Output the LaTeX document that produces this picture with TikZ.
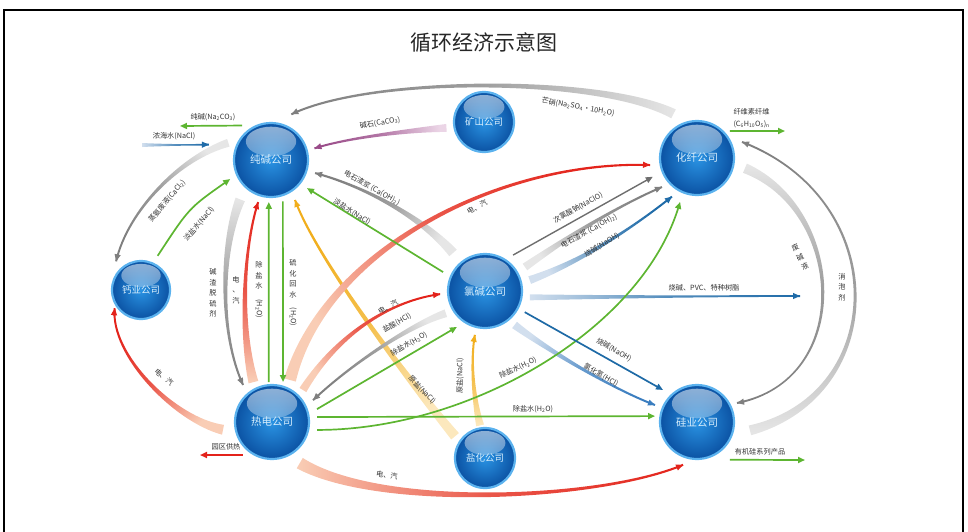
\documentclass[tikz,border=0pt]{standalone}
\usepackage{fontspec}
\setmainfont{Noto Sans CJK SC}
\usepackage{graphicx}
\usetikzlibrary{calc,arrows.meta,fadings}
\pgfdeclarelayer{bg}
\pgfsetlayers{bg,main}
\definecolor{gr}{HTML}{5DB531}
\definecolor{redH}{HTML}{E3231B}
\definecolor{redT}{HTML}{F9CDB5}
\definecolor{grayH}{HTML}{7F7F7F}
\definecolor{grayT}{HTML}{E6E6E6}
\definecolor{grayD}{HTML}{6E6E6E}
\definecolor{blueH}{HTML}{1F6BA8}
\definecolor{blueT}{HTML}{D2DFEE}
\definecolor{lblueH}{HTML}{3A7DBF}
\definecolor{blueD}{HTML}{1E6AA6}
\definecolor{yelH}{HTML}{F1AE1C}
\definecolor{yelT}{HTML}{FCE8BD}
\definecolor{purH}{HTML}{9A4C89}
\definecolor{purT}{HTML}{EBD5E6}
\definecolor{txt}{HTML}{333333}
\definecolor{ballin}{HTML}{2A93E3}
\definecolor{ballout}{HTML}{0B52A3}
\definecolor{rimc}{HTML}{5BB2EE}
\definecolor{balltxt}{HTML}{D8EEFC}
\tikzfading[name=hlfade, top color=transparent!45, bottom color=transparent!100]
\newcommand\sbs[1]{\textsubscript{#1}}
% tapered ribbon: #1 A, #2 c1, #3 c2, #4 B, #5 tail half width, #6 head colour, #7 tail colour, #8 shading angle
\newcommand\ribbon[8]{%
  \shade[top color=#6, bottom color=#7, middle color=#6!70!#7, shading angle=#8]
   ($(#1)!#5pt!90:(#2)$) .. controls ($(#2)!0.45*#5pt!90:(#3)$) and ($(#3)!0.22*#5pt!-90:(#2)$) .. ($(#4)!1pt!-90:(#3)$)
   -- ($(#4)!1pt!90:(#3)$) .. controls ($(#3)!0.22*#5pt!90:(#2)$) and ($(#2)!0.45*#5pt!-90:(#3)$) .. ($(#1)!#5pt!-90:(#2)$) -- cycle;
  \draw[draw=#6, line width=1pt, -{Triangle[length=7pt,width=6pt]}] ($(#4)!8pt!(#3)$) -- (#4);
}
\begin{document}
\begin{tikzpicture}[x=1pt,y=1pt,
  ball/.style={circle, minimum size=#1, inner sep=0pt, draw=rimc, line width=2.2pt,
    inner color=ballin, outer color=ballout, text=balltxt,
    path picture={\fill[white, path fading=hlfade] ([yshift=0.25*#1]path picture bounding box.center) ellipse ({0.34*#1} and {0.2*#1});}},
  bigf/.style={font=\fontsize{10.5}{12}\selectfont},
  smf/.style={font=\fontsize{9.5}{11}\selectfont},
  ln/.style={line width=1.7pt, -{Triangle[length=7pt,width=6pt]}},
  lbl/.style={font=\fontsize{7.2}{9}\selectfont, text=txt, inner sep=0.3pt},
  vlbl/.style={lbl, align=center, font=\fontsize{7.2}{10.5}\selectfont}]
\useasboundingbox (0,0) rectangle (968,-531);
\draw[line width=1.6pt] (4,-540) -- (4,-10) -- (963,-10) -- (963,-540);
\node[font=\fontsize{21}{24}\selectfont, text=black!85] (title) at (484,-43) {循环经济示意图};

\node[ball=74pt, bigf] (cj) at (271,-160) {纯碱公司};
\node[ball=60pt, smf] (ks) at (484,-122) {矿山公司};
\node[ball=74pt, bigf] (hx) at (697,-158) {化纤公司};
\node[ball=58pt, smf] (gy) at (141,-290) {钙业公司};
\node[ball=74pt, bigf] (lj) at (485,-291) {氯碱公司};
\node[ball=74pt, bigf] (rd) at (272,-422) {热电公司};
\node[ball=60pt, smf] (yh) at (485,-458) {盐化公司};
\node[ball=74pt, bigf] (gu) at (697,-422) {硅业公司};

\coordinate (t1a) at ($(hx)+(118:50)$);
\coordinate (t1b) at ($(cj)+(66:50)$);
\coordinate (t2a) at ($(ks)+(189:38)$);
\coordinate (t2b) at ($(cj)+(15:45)$);
\coordinate (t3a) at ($(cj)+(130:45)$);
\coordinate (t3b) at (180,-126);
\coordinate (t4a) at (142,-145);
\coordinate (t4b) at ($(cj)+(166:64)$);
\coordinate (t5a) at ($(cj)+(158:46)$);
\coordinate (t5b) at ($(gy)+(131:38)$);
\coordinate (t6a) at ($(gy)+(64:38)$);
\coordinate (t6b) at ($(cj)+(205:45)$);
\coordinate (t7a) at ($(cj)+(232:50)$);
\coordinate (t7b) at ($(rd)+(128:47)$);
\coordinate (t8a) at ($(rd)+(115:44)$);
\coordinate (t8b) at ($(cj)+(253:44)$);
\coordinate (t9a) at ($(rd)+(94.6:40)$);
\coordinate (t9b) at ($(cj)+(267:42)$);
\coordinate (t10a) at ($(cj)+(286:43)$);
\coordinate (t10b) at ($(rd)+(74.6:41.5)$);
\coordinate (t11a) at ($(yh)+(144:37)$);
\coordinate (t11b) at ($(cj)+(301:46.6)$);
\coordinate (t12a) at ($(yh)+(98.6:33)$);
\coordinate (t12b) at ($(lj)+(257:45)$);
\coordinate (t13a) at ($(lj)+(130:49.7)$);
\coordinate (t13b) at ($(cj)+(343.5:46)$);
\coordinate (t14a) at ($(lj)+(155.7:46)$);
\coordinate (t14b) at ($(cj)+(322:45.6)$);
\coordinate (t15a) at ($(rd)+(66.8:45.7)$);
\coordinate (t15b) at ($(hx)+(188.5:47.5)$);
\coordinate (t16a) at ($(lj)+(52:45.6)$);
\coordinate (t16b) at ($(hx)+(203:48)$);
\coordinate (t17a) at ($(lj)+(31:46.6)$);
\coordinate (t17b) at ($(hx)+(219.6:45.5)$);
\coordinate (t18a) at ($(lj)+(13.7:46)$);
\coordinate (t18b) at ($(hx)+(237:46)$);
\coordinate (t19a) at ($(lj)+(352:45.4)$);
\coordinate (t19b) at (800,-296);
\coordinate (t20a) at ($(rd)+(350:45.7)$);
\coordinate (t20b) at ($(hx)+(249:47)$);
\coordinate (t21a) at ($(lj)+(332:45)$);
\coordinate (t21b) at ($(gu)+(136.7:46.7)$);
\coordinate (t22a) at ($(lj)+(311:45)$);
\coordinate (t22b) at ($(gu)+(158:45.3)$);
\coordinate (t23a) at ($(rd)+(6.3:45.3)$);
\coordinate (t23b) at ($(gu)+(172:42.4)$);
\coordinate (t24a) at ($(rd)+(304:49.6)$);
\coordinate (t24b) at ($(gu)+(252:45)$);
\coordinate (t25a) at ($(rd)+(46:44.5)$);
\coordinate (t25b) at ($(lj)+(184:45)$);
\coordinate (t26a) at ($(lj)+(209.6:45)$);
\coordinate (t26b) at ($(rd)+(28:46.5)$);
\coordinate (t27a) at ($(rd)+(16:46.8)$);
\coordinate (t27b) at ($(lj)+(232:45.6)$);
\coordinate (t28a) at ($(rd)+(189:49.6)$);
\coordinate (t28b) at ($(gy)+(214.7:32)$);
\coordinate (t29a) at ($(rd)+(228.7:44)$);
\coordinate (t29b) at (200,-455);
\coordinate (t30a) at ($(hx)+(39.3:42.6)$);
\coordinate (t30b) at (785,-131);
\coordinate (t31a) at ($(gu)+(311:50)$);
\coordinate (t31b) at (805,-460);
\coordinate (t32a) at ($(hx)+(348:49)$);
\coordinate (t32b) at ($(gu)+(25.4:44.3)$);
\coordinate (t33a) at ($(gu)+(351:53.6)$);
\coordinate (t33b) at ($(hx)+(19.6:47.8)$);

\begin{pgfonlayer}{bg}
\ribbon{t1a}{600,-76}{370,-76}{t1b}{5}{grayH}{grayT}{90}
\ribbon{t2a}{415,-130}{350,-137}{t2b}{4}{purH}{purT}{98}
\ribbon{t4a}{165,-145}{190,-145}{t4b}{2}{blueH}{blueT}{-90}
\ribbon{t5a}{180,-158}{128,-210}{t5b}{4}{grayH}{grayT}{136}
\ribbon{t7a}{220,-250}{220,-335}{t7b}{5}{grayH}{grayT}{181}
\ribbon{t8a}{240,-330}{243,-250}{t8b}{5}{redH}{redT}{-2}
\ribbon{t11a}{400,-370}{315,-255}{t11b}{5}{yelH}{yelT}{34}
\ribbon{t12a}{474,-400}{470,-362}{t12b}{4}{yelH}{yelT}{3}
\ribbon{t13a}{420,-215}{360,-185}{t13b}{5}{grayH}{grayT}{60}
\ribbon{t15a}{325,-250}{500,-160}{t15b}{6}{redH}{redT}{-59}
\ribbon{t17a}{575,-232}{620,-205}{t17b}{4}{grayH}{grayT}{-60}
\ribbon{t18a}{580,-262}{630,-230}{t18b}{4}{blueH}{blueT}{-60}
\ribbon{t19a}{620,-297}{720,-296}{t19b}{3}{blueH}{blueT}{-90}
\ribbon{t22a}{545,-348}{610,-388}{t22b}{4}{lblueH}{blueT}{-120}
\ribbon{t24a}{380,-510}{600,-500}{t24b}{6}{redH}{redT}{-90}
\ribbon{t25a}{340,-330}{395,-300}{t25b}{4}{redH}{redT}{-55}
\ribbon{t26a}{410,-325}{350,-365}{t26b}{4}{grayH}{grayT}{123}
\ribbon{t28a}{175,-420}{110,-355}{t28b}{5}{redH}{redT}{41}
\ribbon{t32a}{845,-210}{855,-380}{t32b}{5}{grayH}{grayT}{178}
\ribbon{t33a}{890,-395}{893,-200}{t33b}{5}{grayH}{grayT}{2}

\draw[ln, gr] (t3a) -- (t3b);
\draw[ln, gr] (t6a) .. controls (189,-208) .. (t6b);
\draw[ln, gr] (t9a) -- (t9b);
\draw[ln, gr] (t10a) -- (t10b);
\draw[ln, gr] (t14a) -- (t14b);
\draw[ln, grayD, line width=1.4pt] (t16a) -- (t16b);
\draw[ln, gr] (t20a) .. controls (470,-430) and (640,-330) .. (t20b);
\draw[ln, blueD] (t21a) -- (t21b);
\draw[ln, gr] (t23a) -- (t23b);
\draw[ln, gr] (t27a) -- (t27b);
\draw[ln, redH] (t29a) -- (t29b);
\draw[ln, gr] (t30a) -- (t30b);
\draw[ln, gr] (t31a) -- (t31b);
\end{pgfonlayer}

\node[lbl, rotate=-10] (l1) at (578,-107) {芒硝(Na\sbs{2}SO\sbs{4}·10H\sbs{2}O)};
\node[lbl, rotate=10] (l2) at (380,-123) {碱石(CaCO\sbs{3})};
\node[lbl] (l3) at (213,-117) {纯碱(Na\sbs{2}CO\sbs{3})};
\node[lbl] (l4) at (174,-136) {浓海水(NaCl)};
\node[lbl, rotate=50] (l5) at (167,-201) {蒸氨废液(CaCl\sbs{2})};
\node[lbl, rotate=50] (l6) at (199,-224) {淡盐水(NaCl)};
\node[vlbl] (l7) at (213,-293) {碱\\渣\\脱\\硫\\剂};
\node[vlbl] (l8) at (236,-290) {电\\、\\汽};
\node[vlbl] (l9) at (259,-290) {除\\盐\\水\\\rotatebox{-90}{(H\sbs{2}O)}};
\node[vlbl] (l10) at (293,-293) {硫\\化\\回\\水\\\rotatebox{-90}{(H\sbs{2}O)}};
\node[lbl, rotate=-46] (l11) at (422,-390) {原盐(NaCl)};
\node[lbl, rotate=90] (l12) at (460,-376) {原盐(NaCl)};
\node[lbl, rotate=-29] (l13) at (372,-188) {电石渣浆 (Ca(OH)\sbs{2})};
\node[lbl, rotate=-32] (l14) at (352,-212) {淡盐水(NaCl)};
\node[lbl, rotate=27] (l15) at (477,-207) {电、汽};
\node[lbl, rotate=29] (l16) at (578,-208) {次氯酸钠(NaClO)};
\node[lbl, rotate=29] (l17) at (589,-231) {电石渣浆 (Ca(OH)\sbs{2})};
\node[lbl, rotate=31] (l18) at (602,-245) {烧碱(NaOH)};
\node[lbl] (l19) at (704,-288) {烧碱、PVC、特种树脂};
\node[lbl, rotate=26] (l20) at (518,-368) {除盐水(H\sbs{2}O)};
\node[lbl, rotate=-30] (l21) at (614,-350) {烧碱(NaOH)};
\node[lbl, rotate=-30] (l22) at (601,-375) {氯化氢(HCl)};
\node[lbl] (l23) at (533,-409) {除盐水(H\sbs{2}O)};
\node[lbl, rotate=-8] (l24) at (387,-475) {电、汽};
\node[lbl, rotate=28] (l25) at (388,-307) {电、汽};
\node[lbl, rotate=30] (l26) at (397,-323) {盐酸(HCl)};
\node[lbl, rotate=30] (l27) at (409,-344) {除盐水(H\sbs{2}O)};
\node[lbl, rotate=-40] (l28) at (164,-377) {电、汽};
\node[lbl] (l29) at (226,-447) {园区供热};
\node[lbl, anchor=west] (l30a) at (733,-112) {纤维素纤维};
\node[lbl, anchor=west] (l30b) at (733,-124) {(C\sbs{6}H\sbs{10}O\sbs{5})\sbs{n}};
\node[lbl] (l31) at (760,-452) {有机硅系列产品};
\node[vlbl, rotate=27] (l32) at (800,-257) {废\\碱\\液};
\node[vlbl] (l33) at (842,-287) {消\\泡\\剂};
\end{tikzpicture}
\end{document}
